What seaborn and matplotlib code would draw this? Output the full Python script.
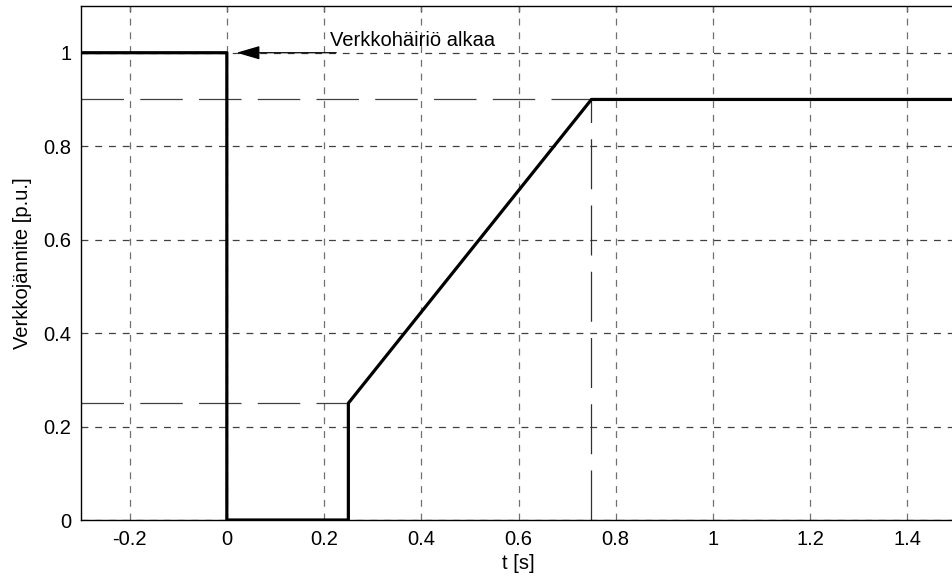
import matplotlib
matplotlib.use("Agg")
import matplotlib.pyplot as plt
import seaborn as sns
import pandas as pd

t_vals = [-0.3, 0.0, 0.0, 0.25, 0.25, 0.75, 1.5]
u_vals = [1.0, 1.0, 0.0, 0.0, 0.25, 0.9, 0.9]
x_ticks = [-0.2, 0, 0.2, 0.4, 0.6, 0.8, 1, 1.2, 1.4]
x_tick_labels = ["-0.2", "0", "0.2", "0.4", "0.6", "0.8", "1", "1.2", "1.4"]
y_ticks = [0, 0.2, 0.4, 0.6, 0.8, 1]
y_tick_labels = ["0", "0.2", "0.4", "0.6", "0.8", "1"]
annotation_text = "Verkkohäiriö alkaa"

sns.set_style("white")
plt.rcParams['font.family'] = ['Liberation Sans', 'DejaVu Sans']
plt.rcParams['text.color'] = 'black'
plt.rcParams['axes.labelcolor'] = 'black'
plt.rcParams['xtick.color'] = 'black'
plt.rcParams['ytick.color'] = 'black'
FS = 14.5

fig = plt.figure(figsize=(9.52, 5.78), dpi=100)
W, H = 952, 578
left, right, top, bottom = 81, 956, 6, 520
ax = fig.add_axes([left / W, 1 - bottom / H, (right - left) / W, (bottom - top) / H])

df = pd.DataFrame({"t": t_vals, "u": u_vals})

# grid
for xv in x_ticks:
    ax.axvline(xv, color="#707070", lw=0.9, ls=(0, (5.5, 5.5)), zorder=1)
for yv in y_ticks:
    ax.axhline(yv, color="#404040", lw=0.9, ls=(0, (5.5, 5.5)), zorder=1)

# reference lines
ax.plot([-0.3, 0.75], [0.9, 0.9], color="#404040", lw=0.9, ls=(0, (34, 13)), zorder=2)
ax.plot([-0.3, 0.25], [0.25, 0.25], color="#404040", lw=0.9, ls=(0, (34, 13)), zorder=2)
ax.plot([0.75, 0.75], [0.0, 0.9], color="#303030", lw=0.9, ls=(0, (40, 13)), zorder=2)

sns.lineplot(data=df, x="t", y="u", sort=False, estimator=None,
             color="black", lw=2.3, ax=ax, zorder=3)

ax.annotate("", xy=(0.02, 1.0), xytext=(0.225, 1.0),
            arrowprops=dict(arrowstyle="-|>,head_length=1.2,head_width=0.35",
                            color="black", lw=0.9, facecolor="black",
                            mutation_scale=12, shrinkA=0, shrinkB=0))
ax.text(0.212, 1.026, annotation_text, fontsize=FS, ha="left", va="center")

ax.set_xlim(-0.3, 1.5)
ax.set_ylim(0, 1.1)
ax.set_xticks(x_ticks)
ax.set_xticklabels(x_tick_labels, fontsize=FS)
ax.set_yticks(y_ticks)
ax.set_yticklabels(y_tick_labels, fontsize=FS)
ax.tick_params(direction="in", length=4, top=True, right=False, width=0.9, pad=7)
ax.set_xlabel("t [s]", fontsize=FS, labelpad=4)
ax.set_ylabel("Verkkojännite [p.u.]", fontsize=FS, labelpad=8)
for s in ax.spines.values():
    s.set_color("black")
    s.set_linewidth(1.0)

fig.savefig("out.png", dpi=100, facecolor="white")
